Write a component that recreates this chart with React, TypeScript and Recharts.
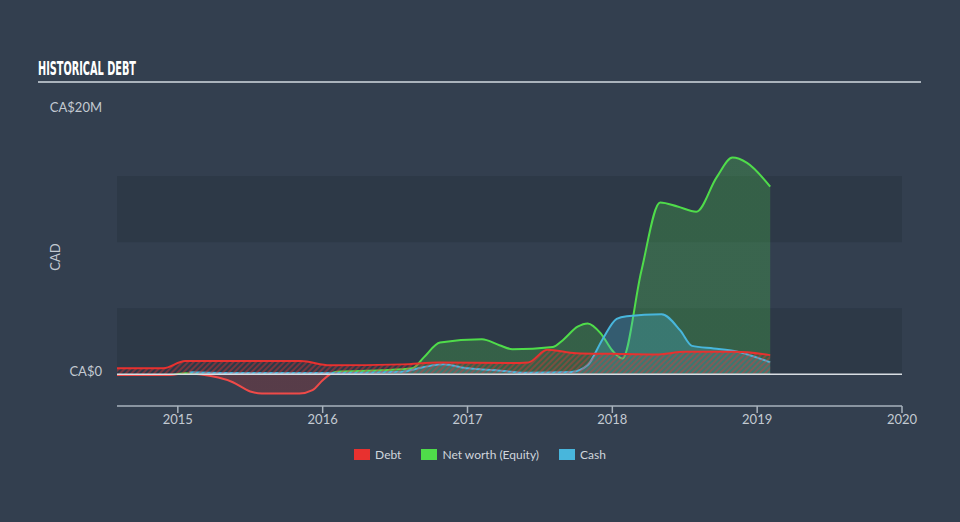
import React from 'react';
import { ComposedChart, Area, XAxis, YAxis, ReferenceArea, ReferenceLine } from 'recharts';

// ---- data (values in CA$ millions, dates in decimal years) ----
const debtDates = [2014.58, 2014.9, 2015.05, 2015.85, 2016.05, 2016.55, 2016.8, 2017.3, 2017.42, 2017.55, 2017.75, 2018.0, 2018.3, 2018.5, 2018.85, 2019.09];
const debtValues = [0.45, 0.45, 1.0, 1.0, 0.68, 0.75, 0.9, 0.85, 0.9, 1.85, 1.6, 1.55, 1.5, 1.7, 1.7, 1.45];

const equityDates = [2014.58, 2014.95, 2015.05, 2015.15, 2015.38, 2015.5, 2015.58, 2015.84, 2015.93, 2016.0, 2016.05, 2016.1, 2016.4, 2016.62, 2016.7, 2016.81, 2017.1, 2017.22, 2017.31, 2017.59, 2017.66, 2017.76, 2017.83, 2017.92, 2018.0, 2018.07, 2018.2, 2018.33, 2018.45, 2018.58, 2018.72, 2018.83, 2018.93, 2019.09];
const equityValues = [-0.05, -0.05, 0.08, 0.0, -0.6, -1.3, -1.45, -1.45, -1.2, -0.45, 0.0, 0.2, 0.3, 0.45, 1.3, 2.4, 2.65, 2.2, 1.9, 2.07, 2.6, 3.6, 3.85, 3.1, 1.8, 1.2, 7.8, 13.0, 12.7, 12.3, 14.9, 16.4, 16.0, 14.2];

const cashDates = [2015.08, 2015.3, 2016.0, 2016.55, 2016.7, 2016.83, 2017.0, 2017.2, 2017.4, 2017.72, 2017.83, 2017.93, 2018.03, 2018.1, 2018.34, 2018.47, 2018.55, 2018.7, 2018.85, 2019.09];
const cashValues = [0.15, 0.1, 0.1, 0.2, 0.55, 0.76, 0.45, 0.3, 0.12, 0.18, 0.7, 2.6, 4.2, 4.4, 4.55, 3.3, 2.15, 1.95, 1.75, 0.9];

const xTicks = [2015, 2016, 2017, 2018, 2019, 2020];
const yTicks = [0, 20];
const yTickLabels = ['CA$0', 'CA$20M'];
const legendLabels = ['Debt', 'Net worth (Equity)', 'Cash'];
const bandRanges = [[0, 5], [10, 15]];

// ---- styles ----
const BG = '#333f4f';
const BAND = '#2d3947';
const RED = '#e8312f';
const GREEN = '#4fdc4a';
const BLUE = '#48b6dc';
const TEXT = '#c3cad2';
const FONT = 'Lato, "Open Sans", sans-serif';

const zip = (dates: number[], values: number[]) => dates.map((t, i) => ({ t, v: values[i] }));
const debtData = zip(debtDates, debtValues);
const equityData = zip(equityDates, equityValues);
const cashData = zip(cashDates, cashValues);

const eqMax = Math.max(...equityValues);
const eqMin = Math.min(...equityValues);
const eqOff = eqMax / (eqMax - eqMin);

const YTick = (props: any) => {
  const { x, y, payload } = props;
  const idx = yTicks.indexOf(payload.value);
  return (
    <text x={x} y={y - 2.5} dy="0.355em" textAnchor="end" fill={TEXT} fontSize={13} fontFamily={FONT}>
      {yTickLabels[idx]}
    </text>
  );
};

const XTick = (props: any) => {
  const { x, y, payload } = props;
  return (
    <text x={x} y={y} dy="0.71em" textAnchor="middle" fill={TEXT} fontSize={13} fontFamily={FONT}>
      {String(payload.value)}
    </text>
  );
};

export default function App() {
  const legendColors = [RED, GREEN, BLUE];
  return (
    <div style={{ position: 'absolute', left: 0, top: 0, width: 960, height: 522, background: BG, overflow: 'hidden' }}>
      <ComposedChart width={960} height={522} margin={{ top: 110, right: 58, bottom: 86, left: 57 }}>
        <defs>
          <linearGradient id="eqStroke" x1="0" y1="0" x2="0" y2="1">
            <stop offset={eqOff} stopColor={GREEN} />
            <stop offset={eqOff} stopColor="#f04a48" />
          </linearGradient>
          <linearGradient id="eqFill" x1="0" y1="0" x2="0" y2="1">
            <stop offset={eqOff} stopColor={GREEN} stopOpacity={0.24} />
            <stop offset={eqOff} stopColor={RED} stopOpacity={0.2} />
          </linearGradient>
          <pattern id="hatch" patternUnits="userSpaceOnUse" width="4" height="4" patternTransform="rotate(45)">
            <line x1="1" y1="0" x2="1" y2="4" stroke={RED} strokeWidth="1.6" strokeOpacity="0.5" />
          </pattern>
        </defs>
        {bandRanges.map((r, i) => (
          <ReferenceArea key={i} x1={2014.58} x2={2020} y1={r[0]} y2={r[1]} fill={BAND} fillOpacity={1} stroke="none" />
        ))}
        <XAxis
          type="number"
          dataKey="t"
          domain={[2014.58, 2020]}
          allowDataOverflow
          ticks={xTicks}
          height={30}
          tickSize={7}
          tickMargin={2}
          axisLine={{ stroke: '#a9b3bd', strokeWidth: 1.5 }}
          tickLine={{ stroke: '#a9b3bd', strokeWidth: 1.5 }}
          tick={<XTick />}
        />
        <YAxis
          type="number"
          domain={[-2.4, 20]}
          allowDataOverflow
          ticks={yTicks}
          width={60}
          tickSize={6}
          tickMargin={9}
          axisLine={false}
          tickLine={false}
          tick={<YTick />}
        />
        <Area
          data={equityData}
          dataKey="v"
          type="monotone"
          stroke="url(#eqStroke)"
          strokeWidth={2}
          fill="url(#eqFill)"
          fillOpacity={1}
          dot={false}
          activeDot={false}
          isAnimationActive={false}
        />
        <Area
          data={cashData}
          dataKey="v"
          type="monotone"
          stroke={BLUE}
          strokeWidth={2}
          fill={BLUE}
          fillOpacity={0.28}
          dot={false}
          activeDot={false}
          isAnimationActive={false}
        />
        <Area
          data={debtData}
          dataKey="v"
          type="monotone"
          stroke={RED}
          strokeWidth={2}
          fill="url(#hatch)"
          fillOpacity={1}
          dot={false}
          activeDot={false}
          isAnimationActive={false}
        />
        <ReferenceLine y={0} stroke="#d9dee3" strokeWidth={1.5} />
      </ComposedChart>

      <svg width={960} height={522} style={{ position: 'absolute', left: 0, top: 0, pointerEvents: 'none' }}>
        <text
          x={38}
          y={75}
          fontSize={20}
          fontWeight="bold"
          fontFamily='"DejaVu Sans Condensed", "DejaVu Sans", sans-serif'
          fill="#ffffff"
          textLength={98}
          lengthAdjust="spacingAndGlyphs"
        >
          HISTORICAL DEBT
        </text>
        <rect x={38} y={81} width={883} height={2} fill="#aab3bc" />
        <text
          x={55}
          y={257}
          transform="rotate(-90 55 257)"
          textAnchor="middle"
          dominantBaseline="central"
          fontSize={13}
          fontFamily={FONT}
          fill={TEXT}
        >
          CAD
        </text>
      </svg>

      <div
        style={{
          position: 'absolute',
          left: 0,
          top: 447,
          width: 960,
          display: 'flex',
          justifyContent: 'center',
          alignItems: 'center',
          fontFamily: FONT,
          fontSize: 12,
          color: '#d0d6dc',
        }}
      >
        {legendLabels.map((l, i) => (
          <div key={l} style={{ display: 'flex', alignItems: 'center', marginLeft: i === 0 ? 0 : 20 }}>
            <div style={{ width: 16, height: 11, background: legendColors[i], marginRight: 5 }} />
            <span>{l}</span>
          </div>
        ))}
      </div>
    </div>
  );
}
